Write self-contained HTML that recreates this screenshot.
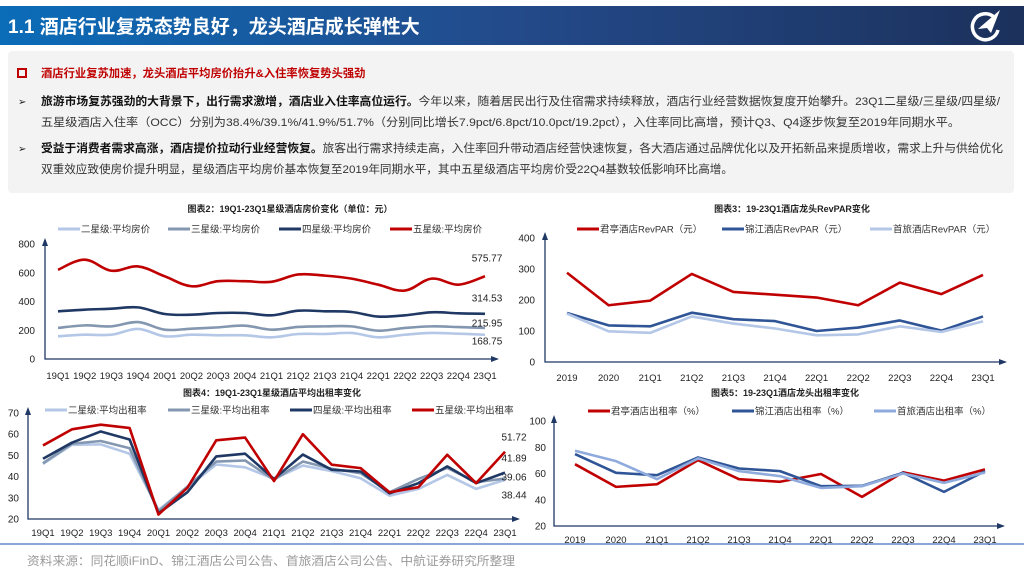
<!DOCTYPE html>
<html><head><meta charset="utf-8">
<style>
html,body{margin:0;padding:0;background:#fff;}
svg{display:block;font-family:"Liberation Sans","Noto Sans CJK SC",sans-serif;}
</style></head>
<body>
<svg id="page" width="1024" height="576" viewBox="0 0 1024 576" xmlns="http://www.w3.org/2000/svg">
<defs>
<linearGradient id="hdr" x1="0" x2="1" y1="0" y2="0">
<stop offset="0" stop-color="#0b6cb8"/><stop offset="0.5" stop-color="#234a8a"/><stop offset="1" stop-color="#1c315c"/>
</linearGradient>
</defs>
<g>
<rect x="0" y="6" width="1024" height="39" fill="url(#hdr)"/>
<text x="8" y="33" fill="#fff" font-size="19" font-weight="bold">1.1 酒店行业复苏态势良好，龙头酒店成长弹性大</text>
<g>
<path d="M994 17 A13 13 0 1 0 998 30" fill="none" stroke="#fff" stroke-width="3.5"/>
<path d="M978 29 L1000 10 L991 33 L987 28 Z" fill="#fff"/>
<text x="986" y="36" fill="#1c315c" font-size="4" text-anchor="middle" font-weight="bold">AVIC</text>
</g>
</g>
<g>
<rect x="8" y="51" width="1006" height="142" rx="4" fill="#f3f3f3"/>
<rect x="18" y="69" width="8" height="8" fill="none" stroke="#c00000" stroke-width="2"/>
<text x="41" y="77" fill="#c00000" font-size="11.3" font-weight="bold">酒店行业复苏加速，龙头酒店平均房价抬升&amp;入住率恢复势头强劲</text>
<text x="18" y="105" font-size="10" fill="#222">➢</text>
<text x="41" y="105" font-size="11.3" fill="#333" textLength="959" lengthAdjust="spacingAndGlyphs"><tspan font-weight="bold" fill="#111">旅游市场复苏强劲的大背景下，出行需求激增，酒店业入住率高位运行。</tspan>今年以来，随着居民出行及住宿需求持续释放，酒店行业经营数据恢复度开始攀升。23Q1二星级/三星级/四星级/</text>
<text x="41" y="126" font-size="11.3" fill="#333" textLength="919" lengthAdjust="spacingAndGlyphs">五星级酒店入住率（OCC）分别为38.4%/39.1%/41.9%/51.7%（分别同比增长7.9pct/6.8pct/10.0pct/19.2pct），入住率同比高增，预计Q3、Q4逐步恢复至2019年同期水平。</text>
<text x="18" y="152" font-size="10" fill="#222">➢</text>
<text x="41" y="152" font-size="11.3" fill="#333" textLength="962" lengthAdjust="spacingAndGlyphs"><tspan font-weight="bold" fill="#111">受益于消费者需求高涨，酒店提价拉动行业经营恢复。</tspan>旅客出行需求持续走高，入住率回升带动酒店经营快速恢复，各大酒店通过品牌优化以及开拓新品来提质增收，需求上升与供给优化</text>
<text x="41" y="173" font-size="11.3" fill="#333" textLength="692" lengthAdjust="spacingAndGlyphs">双重效应致使房价提升明显，星级酒店平均房价基本恢复至2019年同期水平，其中五星级酒店平均房价受22Q4基数较低影响环比高增。</text>
</g>
<g id="charts"></g>
<line x1="0" y1="544" x2="1024" y2="544" stroke="#4472c4" stroke-width="1.2"/>
<text x="27" y="565" font-size="12" fill="#9a9a9a" textLength="488" lengthAdjust="spacingAndGlyphs">资料来源：同花顺iFinD、锦江酒店公司公告、首旅酒店公司公告、中航证券研究所整理</text>
</svg>
<script>
// Chart 2: average room price
const priceCats = ["19Q1","19Q2","19Q3","19Q4","20Q1","20Q2","20Q3","20Q4","21Q1","21Q2","21Q3","21Q4","22Q1","22Q2","22Q3","22Q4","23Q1"];
const priceTicks = [0,200,400,600,800];
const price2 = [158,169,169,209,158,169,165,165,151,174,174,181,151,169,181,176,168.75];
const price3 = [216,234,227,257,204,211,220,232,204,223,227,227,197,216,227,222,215.95];
const price4 = [332,343,350,359,313,308,320,320,304,336,332,327,295,304,325,318,314.53];
const price5 = [621,691,614,644,575,506,541,541,537,588,580,559,517,476,559,517,575.77];
// Chart 3: RevPAR
const revCats = ["2019","2020","21Q1","21Q2","21Q3","21Q4","22Q1","22Q2","22Q3","22Q4","23Q1"];
const revTicks = [0,100,200,300,400];
const revJunting = [288,183,198,284,226,217,208,183,256,219,281];
const revJinjiang = [158,118,115,159,138,132,100,111,134,101,147];
const revShoulv = [156,99,94,147,124,108,86,89,115,97,131];
// Chart 4: occupancy by star
const occCats = priceCats;
const occTicks = [20,30,40,50,60,70];
const occ2 = [46.0,55.0,55.2,50.8,24.3,35.0,45.7,44.4,38.9,45.2,42.6,39.2,31.0,34.2,40.8,34.2,38.44];
const occ3 = [46.3,55.5,56.8,53.4,23.6,35.3,47.1,47.6,38.5,47.1,43.7,41.6,32.6,38.9,44.1,37.4,39.06];
const occ4 = [48.4,56.0,61.3,57.5,22.7,32.6,49.5,50.8,38.9,50.4,43.2,42.4,32.1,36.9,44.8,36.9,41.89];
const occ5 = [54.7,62.3,64.5,62.9,22.1,34.7,57.1,58.4,37.9,60.0,45.6,44.0,32.6,35.0,50.3,36.9,51.72];
// Chart 5: leaders occupancy
const lOccCats = revCats;
const lOccTicks = [20,40,60,80,100];
const lOccJunting = [67.1,49.8,51.8,70.2,55.7,53.7,59.6,42.2,60.9,54.6,63.1];
const lOccJinjiang = [74.8,60.5,58.7,72.2,63.8,61.8,50.3,50.6,60.5,46.0,61.8];
const lOccShoulv = [77.3,69.4,55.7,71.5,61.8,58.0,49.0,50.3,60.0,52.9,60.8];

const NS = "http://www.w3.org/2000/svg";
const root = document.getElementById("charts");
function mk(tag, attrs, parent, txt){
  const e = document.createElementNS(NS, tag);
  for (const k in attrs) e.setAttribute(k, attrs[k]);
  if (txt !== undefined) e.textContent = txt;
  parent.appendChild(e);
  return e;
}
function smoothPath(pts){
  let d = "M" + pts[0][0] + " " + pts[0][1];
  for (let i = 0; i < pts.length - 1; i++){
    const p0 = pts[i-1] || pts[i], p1 = pts[i], p2 = pts[i+1], p3 = pts[i+2] || p2;
    const t = 0.18;
    d += " C" + (p1[0] + (p2[0]-p0[0])*t) + " " + (p1[1] + (p2[1]-p0[1])*t) + " " + (p2[0] - (p3[0]-p1[0])*t) + " " + (p2[1] - (p3[1]-p1[1])*t) + " " + p2[0] + " " + p2[1];
  }
  return d;
}
function drawChart(cfg){
  const g = mk("g", {}, root);
  
  
  const yScale = v => cfg.y0 - (v - cfg.ticks[0]) / (cfg.ticks[cfg.ticks.length-1] - cfg.ticks[0]) * (cfg.y0 - cfg.yTop);
  const xScale = i => cfg.xFirst + i * (cfg.xLast - cfg.xFirst) / (cfg.cats.length - 1);
  const title = mk("text", {x: cfg.titleX, y: cfg.titleY, "font-size": 9, "font-weight": "bold", "text-anchor": "middle", fill: "#222"}, g, cfg.title);
  
  
  cfg.ticks.forEach(t => {
    const tl = mk("text", {x: cfg.tickX, y: yScale(t) + 3.5, "font-size": 10, "text-anchor": "end", fill: "#222"}, g, String(t));
    
    
  });
  cfg.cats.forEach((c, i) => {
    const xl = mk("text", {x: xScale(i), y: cfg.xLabY, "font-size": 9.5, "text-anchor": "middle", fill: "#222"}, g, c);
    
    
  });
  const ax = mk("path", {d: "M" + cfg.axisX + " " + (cfg.yTop - 4) + " L" + cfg.axisX + " " + cfg.y0 + " L" + (cfg.xEnd) + " " + cfg.y0, fill: "none", stroke: "#1f3864", "stroke-width": 1.3}, g);
  
  
  mk("path", {d: "M" + (cfg.axisX-3) + " " + (cfg.yTop+2) + " L" + cfg.axisX + " " + (cfg.yTop-6) + " L" + (cfg.axisX+3) + " " + (cfg.yTop+2) + "Z", fill: "#1f3864"}, g);
  mk("path", {d: "M" + (cfg.xEnd-6) + " " + (cfg.y0-3) + " L" + (cfg.xEnd+2) + " " + cfg.y0 + " L" + (cfg.xEnd-6) + " " + (cfg.y0+3) + "Z", fill: "#1f3864"}, g);
  cfg.series.forEach((s, si) => {
    const pts = s.data.map((v, i) => [xScale(i), yScale(v)]);
    const p = mk("path", {d: cfg.smooth ? smoothPath(pts) : "M" + pts.map(p => p[0] + " " + p[1]).join(" L"), fill: "none", stroke: s.color, "stroke-width": 2.6, "stroke-linejoin": "round"}, g);
    
    
    const lg = mk("g", {}, g);
    
    
    mk("line", {x1: cfg.legX[si], x2: cfg.legX[si] + 22, y1: cfg.legY, y2: cfg.legY, stroke: s.color, "stroke-width": 3}, lg);
    mk("text", {x: cfg.legX[si] + 23, y: cfg.legY + 3.5, "font-size": 9.5, fill: "#333"}, lg, s.label);
    if (cfg.labels){
      const dl = mk("text", {x: cfg.labels.x, y: cfg.labels.y[si] + 3.5, "font-size": 10, "text-anchor": "middle", fill: "#222"}, g, s.data[s.data.length-1].toFixed(2));
      
      
    }
  });
}
drawChart({name: "room-price-chart", title: "图表2：19Q1-23Q1星级酒店房价变化（单位：元）", titleX: 290, titleY: 212,
  cats: priceCats, ticks: priceTicks, y0: 359, yTop: 244, xFirst: 58, xLast: 485, axisX: 45, xEnd: 497, tickX: 35, xLabY: 379, smooth: true,
  legY: 229, legX: [58, 168, 279, 390],
  labels: {x: 487, y: [341, 323, 298, 258]},
  series: [
    {id: "two-star", label: "二星级:平均房价", color: "#b4c7e7", data: price2},
    {id: "three-star", label: "三星级:平均房价", color: "#8497b0", data: price3},
    {id: "four-star", label: "四星级:平均房价", color: "#1f3864", data: price4},
    {id: "five-star", label: "五星级:平均房价", color: "#c00000", data: price5}]});
drawChart({name: "revpar-chart", title: "图表3：19-23Q1酒店龙头RevPAR变化", titleX: 792, titleY: 212,
  cats: revCats, ticks: revTicks, y0: 362, yTop: 238, xFirst: 567, xLast: 983, axisX: 545, xEnd: 1005, tickX: 535, xLabY: 381,
  legY: 229, legX: [577, 722, 870],
  series: [
    {id: "junting", label: "君亭酒店RevPAR（元）", color: "#c00000", data: revJunting},
    {id: "jinjiang", label: "锦江酒店RevPAR（元）", color: "#2f5597", data: revJinjiang},
    {id: "shoulv", label: "首旅酒店RevPAR（元）", color: "#b4c7e7", data: revShoulv}]});
drawChart({name: "star-occupancy-chart", title: "图表4：19Q1-23Q1星级酒店平均出租率变化", titleX: 272, titleY: 396,
  cats: occCats, ticks: occTicks, y0: 519, yTop: 413, xFirst: 43, xLast: 505, axisX: 28, xEnd: 518, tickX: 19, xLabY: 536,
  legY: 410, legX: [45, 168, 290, 412],
  labels: {x: 514, y: [495, 477, 458, 437]},
  series: [
    {id: "two-star", label: "二星级:平均出租率", color: "#b4c7e7", data: occ2},
    {id: "three-star", label: "三星级:平均出租率", color: "#8497b0", data: occ3},
    {id: "four-star", label: "四星级:平均出租率", color: "#1f3864", data: occ4},
    {id: "five-star", label: "五星级:平均出租率", color: "#c00000", data: occ5}]});
drawChart({name: "leader-occupancy-chart", title: "图表5：19-23Q1酒店龙头出租率变化", titleX: 785, titleY: 396,
  cats: lOccCats, ticks: lOccTicks, y0: 526, yTop: 421, xFirst: 575, xLast: 985, axisX: 554, xEnd: 1003, tickX: 546, xLabY: 543,
  legY: 411, legX: [588, 732, 874],
  series: [
    {id: "junting", label: "君亭酒店出租率（%）", color: "#c00000", data: lOccJunting},
    {id: "jinjiang", label: "锦江酒店出租率（%）", color: "#2f5597", data: lOccJinjiang},
    {id: "shoulv", label: "首旅酒店出租率（%）", color: "#8faadc", data: lOccShoulv}]});
</script>
</body></html>
